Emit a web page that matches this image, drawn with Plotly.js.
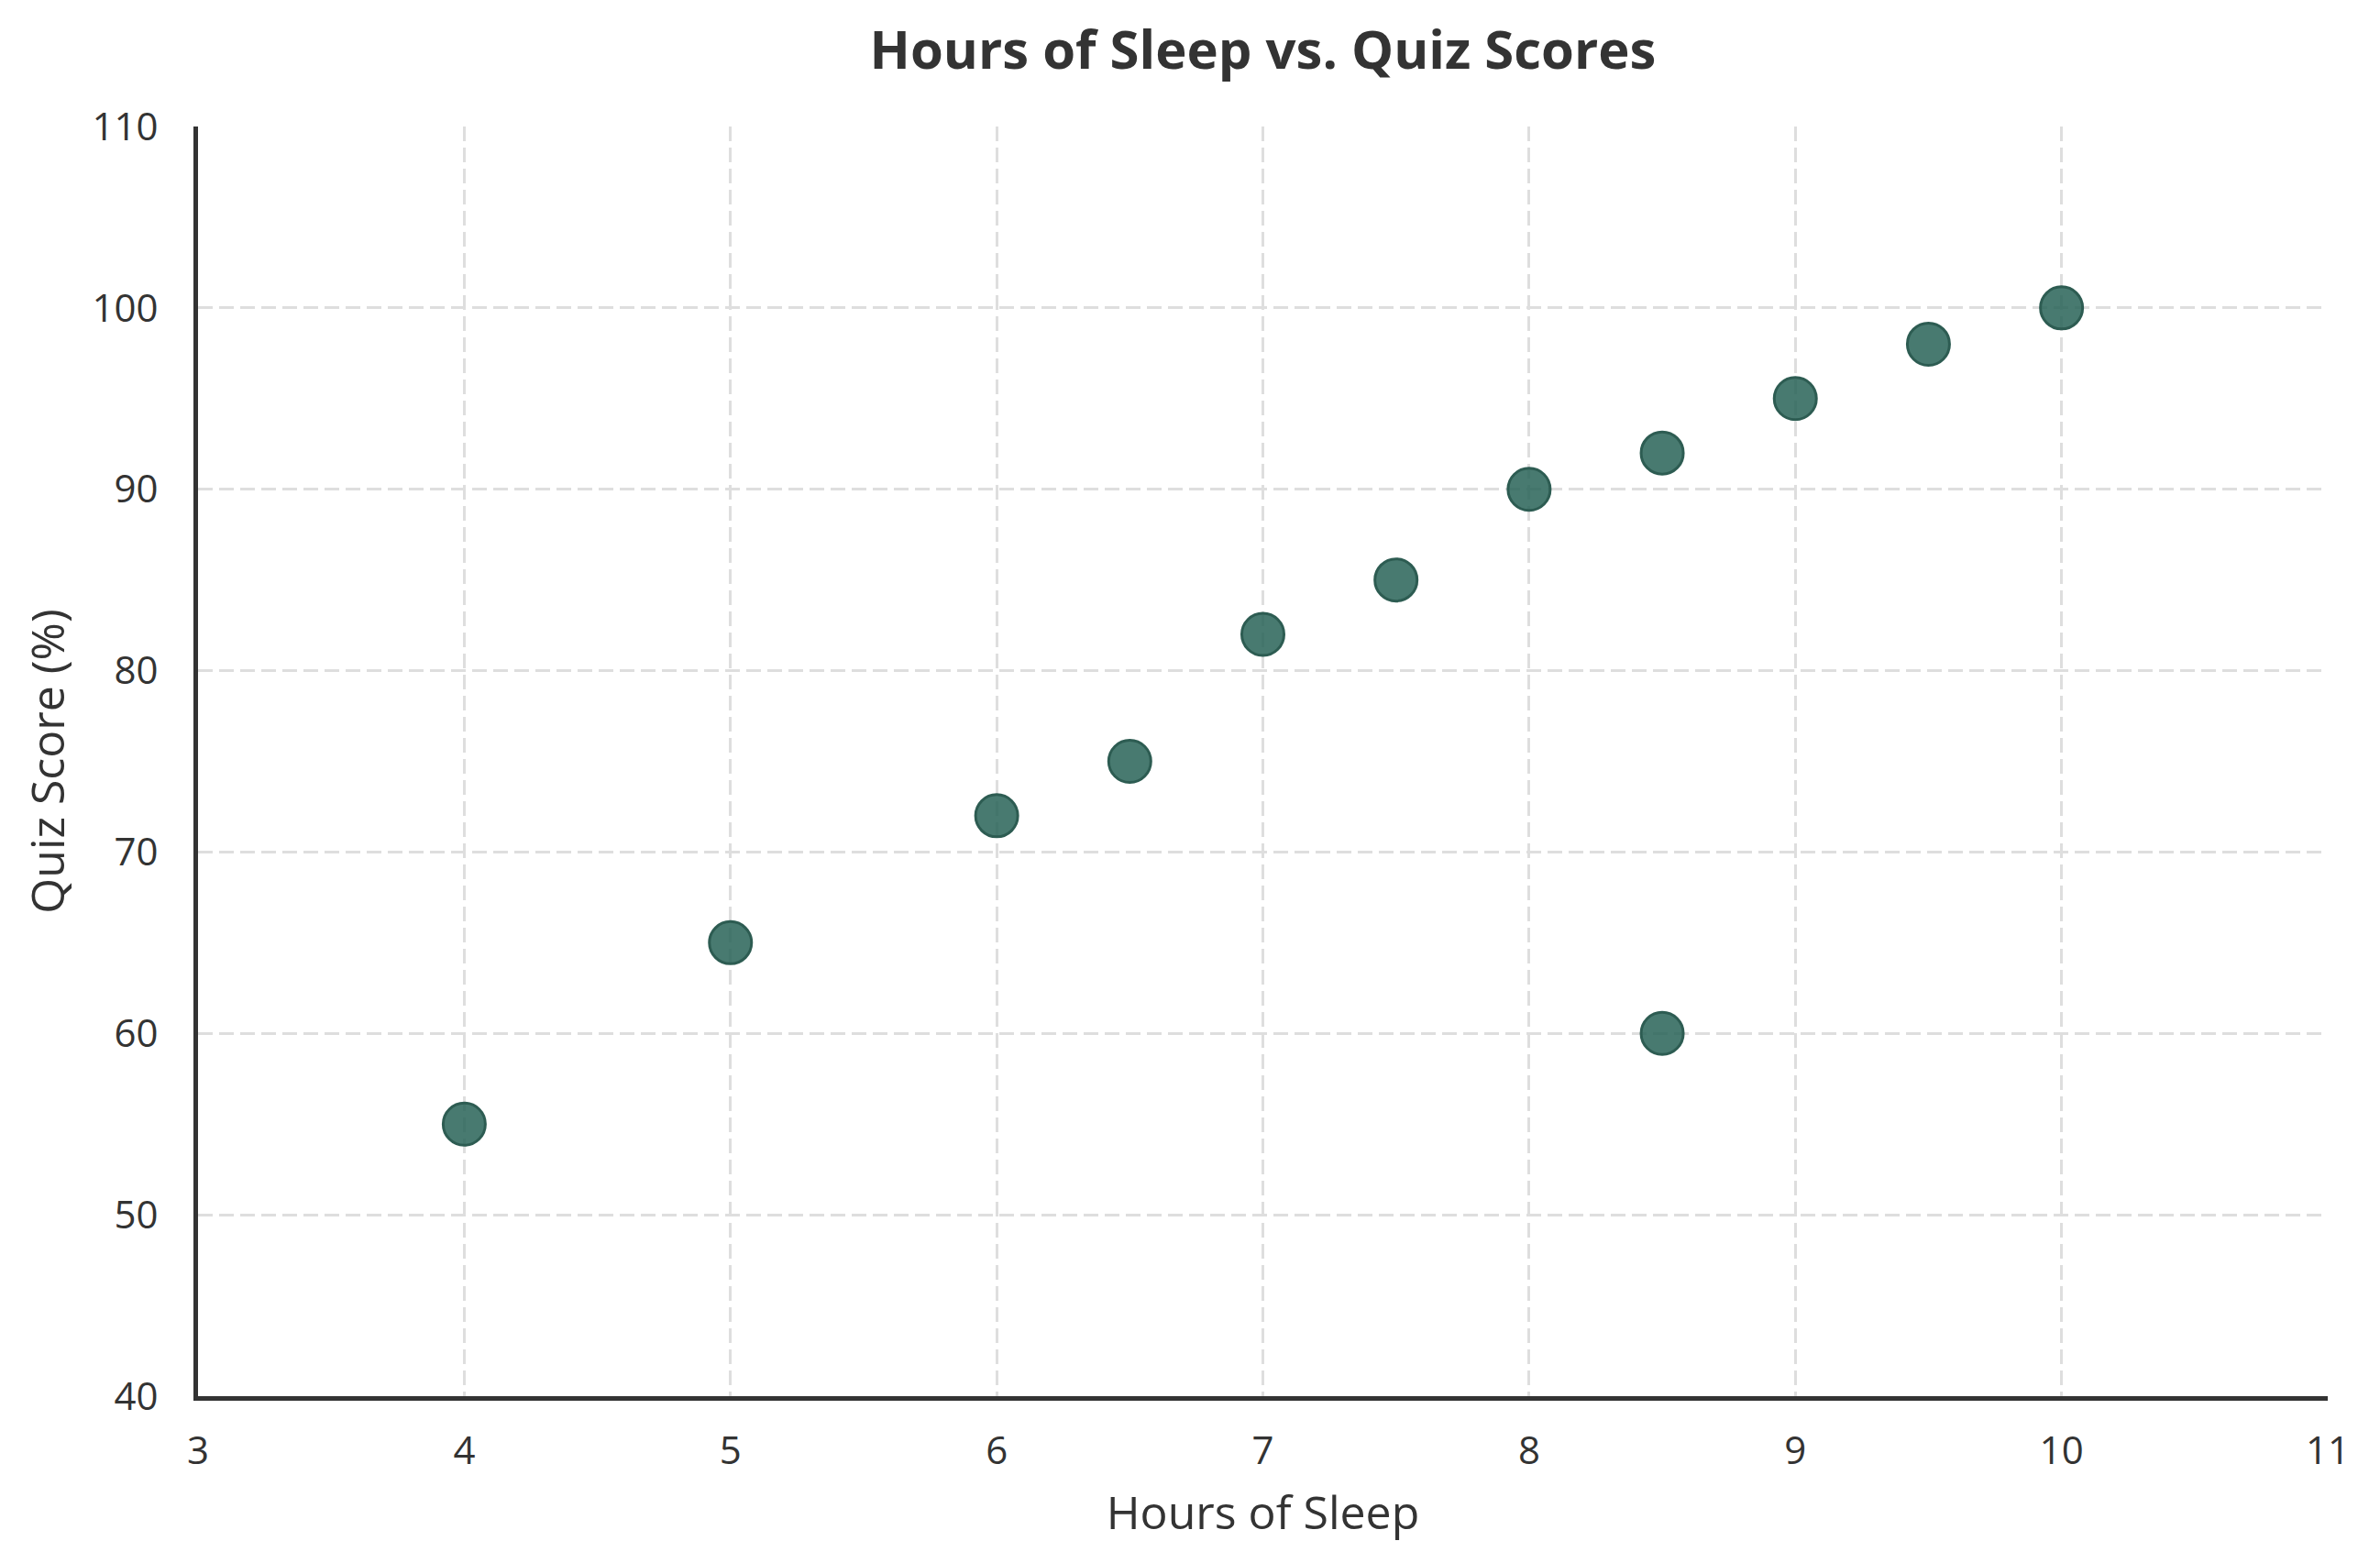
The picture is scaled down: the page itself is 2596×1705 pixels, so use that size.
<!DOCTYPE html>
<html>
<head>
<meta charset="utf-8">
<script src="https://cdn.plot.ly/plotly-3.0.1.min.js"></script>
<style>
  html, body { margin: 0; padding: 0; background: #fff; }
  #chart { width: 2596px; height: 1705px; }
</style>
</head>
<body>
<div id="chart"></div>
<script>
// data
const hoursOfSleep = [4, 5, 6, 6.5, 7, 7.5, 8, 8.5, 9, 9.5, 10, 8.5];
const quizScores = [55, 65, 72, 75, 82, 85, 90, 92, 95, 98, 100, 60];
const xTickValues = [3, 4, 5, 6, 7, 8, 9, 10, 11];
const yTickValues = [40, 50, 60, 70, 80, 90, 100, 110];

const INK = "#333333";
const GRID = "#dedede";
const FONT = "Open Sans, Noto Sans, sans-serif";

const trace = {
  type: "scatter",
  mode: "markers",
  x: hoursOfSleep,
  y: quizScores,
  marker: {
    size: 46,
    color: "rgba(40,99,87,0.85)",
    line: { width: 3, color: "#2d5c52" },
  },
  hoverinfo: "x+y",
};

const axisCommon = {
  showline: true,
  linecolor: INK,
  linewidth: 5,
  showgrid: true,
  gridcolor: GRID,
  gridwidth: 3,
  griddash: "16px,7px",
  zeroline: false,
  ticks: "",
  tickfont: { family: FONT, size: 42, color: INK },
  automargin: false,
};

const layout = {
  width: 2596,
  height: 1705,
  paper_bgcolor: "#ffffff",
  plot_bgcolor: "#ffffff",
  font: { family: FONT, color: INK },
  margin: { l: 216, r: 57, t: 138, b: 182 },
  showlegend: false,
  title: {
    text: "Hours of Sleep vs. Quiz Scores",
    font: { family: FONT, size: 58, color: INK, weight: "bold" },
    x: 0.5,
    xanchor: "center",
    xref: "paper",
    yref: "container",
    y: 1 - 55 / 1705,
    yanchor: "middle",
  },
  xaxis: Object.assign({}, axisCommon, {
    range: [3, 11],
    tickvals: xTickValues,
    ticklabelstandoff: 19,
    title: { text: "Hours of Sleep", font: { family: FONT, size: 50, color: INK }, standoff: 26 },
  }),
  yaxis: Object.assign({}, axisCommon, {
    range: [40, 110],
    tickvals: yTickValues,
    ticklabelstandoff: 30,
    title: { text: "Quiz Score (%)", font: { family: FONT, size: 50, color: INK }, standoff: 16 },
  }),
};

Plotly.newPlot("chart", [trace], layout, { displayModeBar: false, staticPlot: true });
</script>
</body>
</html>
